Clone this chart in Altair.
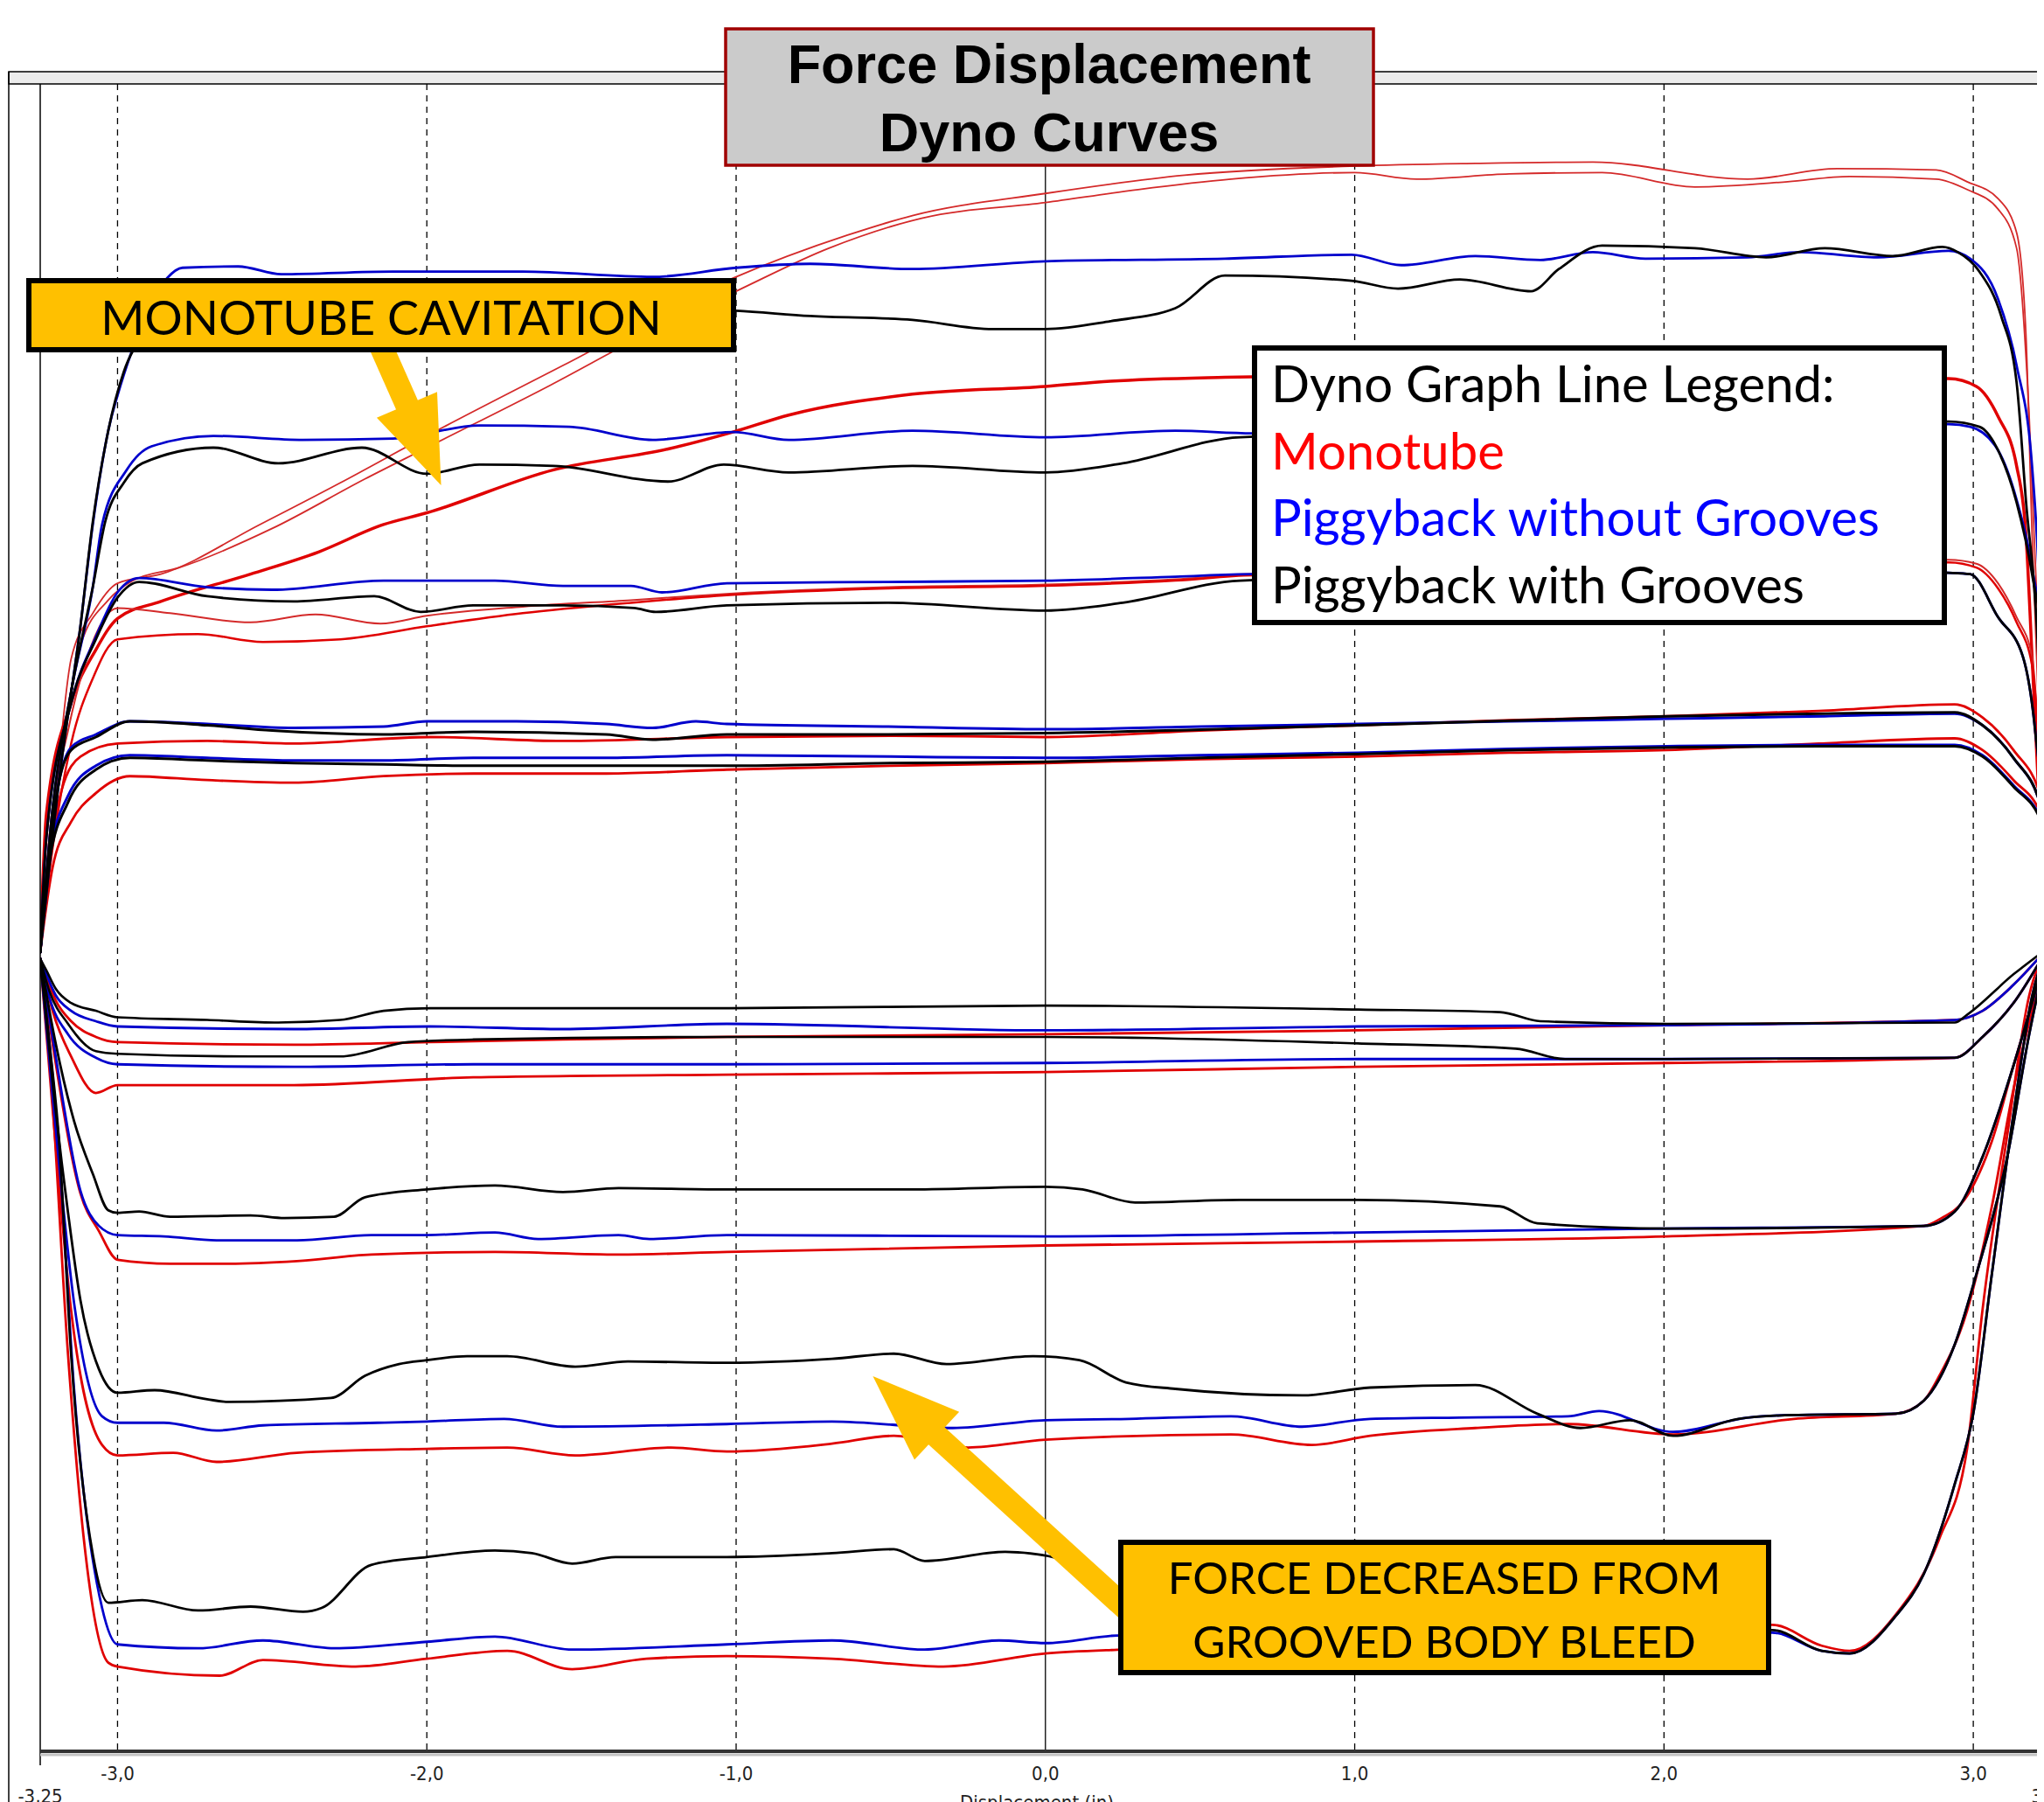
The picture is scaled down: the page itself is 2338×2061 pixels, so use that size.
import altair as alt
import pandas as pd

# ---------------- axis text ----------------
X_TICKS = [-3, -2, -1, 0, 1, 2, 3]
X_TICK_LABELS = ["-3,0", "-2,0", "-1,0", "0,0", "1,0", "2,0", "3,0"]
X_END_TICKS = [-3.25, 3.25]
X_END_LABELS = ["-3,25", "3,25"]
GRID_DASHED = [-3, -2, -1, 1, 2, 3]
GRID_SOLID = [0]
X_TITLE = "Displacement (in)"

TITLE_LINES = ["Force Displacement", "Dyno Curves"]
NOTE_CAVITATION = "MONOTUBE CAVITATION"
NOTE_BLEED = ["FORCE DECREASED FROM", "GROOVED BODY BLEED"]
LEGEND_TITLE = "Dyno Graph Line Legend:"
LEGEND_ITEMS = ["Monotube", "Piggyback without Grooves", "Piggyback with Grooves"]
LEGEND_COLORS = ["#FF0000", "#0000FF", "#000000"]

# ---------------- curves: (displacement in, force) ----------------
# top half (rebound) ------------------------------------------------
MONO_T1A = [(-3.25,5),(-3.20,125),(-3.15,230),(-3.08,265),(-3.00,288),(-2.86,295),(-2.54,333),(-2.28,365),
            (-2.00,401),(-1.56,455),(-1.01,522),(-0.64,555),(-0.43,570),(0.0,587),(0.45,601),(1.00,608),
            (1.39,610),(1.77,611),(2.27,598),(2.56,606),(2.88,605),(2.98,596),(3.08,583),(3.14,557),
            (3.17,480),(3.19,326),(3.22,135),(3.24,5)]
MONO_T1B = [(-3.25,5),(-3.19,140),(-3.12,240),(-3.03,275),(-2.95,290),(-2.80,300),(-2.50,330),(-2.20,368),
            (-2.00,392),(-1.60,440),(-1.30,478),(-1.00,512),(-0.70,545),(-0.40,568),(0.0,580),(0.30,590),
            (0.60,598),(1.00,603),(1.20,598),(1.50,602),(1.80,603),(2.10,592),(2.40,596),(2.60,600),
            (2.88,598),(2.98,590),(3.08,575),(3.14,545),(3.18,420),(3.21,250),(3.24,5)]
MONO_T2 = [(-3.25,5),(-3.23,111),(-3.15,196),(-3.07,237),(-3.00,261),(-2.86,274),(-2.57,295),(-2.35,312),
           (-2.14,333),(-2.00,342),(-1.59,375),(-1.22,391),(-1.01,404),(-0.83,417),(-0.43,433),(0.0,439),
           (0.21,443),(0.58,446),(0.84,447),(1.68,448),(2.52,445),(2.92,445),(3.01,439),(3.08,416),
           (3.14,378),(3.17,326),(3.19,232),(3.22,85),(3.24,5)]
MONO_T3A = [(-3.25,5),(-3.22,95),(-3.16,175),(-3.10,230),(-3.00,269),(-2.83,265),(-2.57,258),(-2.36,264),
            (-2.15,257),(-2.00,263),(-1.69,270),(-1.34,275),(-1.02,280),(-0.51,285),(0.0,287),(0.42,291),
            (0.67,295),(1.68,297),(2.52,303),(2.92,306),(3.01,303),(3.08,288),(3.14,262),(3.19,232),
            (3.21,175),(3.23,85),(3.24,5)]
MONO_T3B = [(-3.25,5),(-3.21,85),(-3.15,165),(-3.08,215),(-3.00,245),(-2.74,249),(-2.53,243),(-2.28,245),
            (-2.00,255),(-1.69,265),(-1.34,273),(-1.02,279),(-0.51,284),(0.0,286),(0.42,290),(0.67,294),
            (1.68,296),(2.52,300),(2.92,304),(3.01,300),(3.08,284),(3.14,258),(3.19,225),(3.21,170),
            (3.23,80),(3.24,5)]
MONO_T4 = [(-3.25,5),(-3.22,80),(-3.18,130),(-3.12,155),(-3.00,165),(-2.71,167),(-2.43,165),(-1.99,170),
           (-1.56,167),(-1.03,170),(-0.5,171),(0.0,170),(0.5,175),(1.01,179),(1.5,183),(2.01,186),
           (2.5,190),(2.94,195),(3.03,185),(3.13,160),(3.22,123),(3.25,8)]
MONO_T5 = [(-3.25,5),(-3.21,70),(-3.15,105),(-3.07,127),(-2.96,140),(-2.71,137),(-2.43,135),(-2.14,140),
           (-1.85,142),(-1.42,142),(-1.03,145),(-0.5,148),(0.0,150),(0.5,153),(1.01,155),(1.5,158),
           (2.01,160),(2.5,165),(2.94,169),(3.03,160),(3.13,137),(3.22,110),(3.25,8)]

PB_T1 = [(-3.25,5),(-3.19,135),(-3.12,255),(-3.08,333),(-3.03,405),(-2.99,440),(-2.94,475),(-2.89,504),
         (-2.84,522),(-2.79,530),(-2.61,531),(-2.47,525),(-2.11,527),(-1.69,527),(-1.27,523),(-1.00,530),
         (-0.76,533),(-0.43,529),(0.0,535),(0.58,537),(0.99,540),(1.15,532),(1.39,539),(1.60,536),
         (1.77,542),(1.94,537),(2.27,538),(2.44,542),(2.69,538),(2.92,543),(2.99,537),(3.08,506),
         (3.14,455),(3.19,378),(3.22,232),(3.24,5)]
PB_T2 = [(-3.25,5),(-3.21,115),(-3.15,205),(-3.08,285),(-3.05,333),(-2.97,375),(-2.89,393),(-2.69,401),
         (-2.40,398),(-2.11,399),(-1.83,409),(-1.54,408),(-1.27,398),(-1.01,404),(-0.83,398),(-0.43,405),
         (0.0,400),(0.42,405),(0.67,403),(1.68,405),(2.52,407),(2.92,410),(2.99,408),(3.08,390),
         (3.14,352),(3.19,300),(3.23,225),(3.24,5)]
PB_T3 = [(-3.25,5),(-3.23,93),(-3.15,196),(-3.07,247),(-3.00,281),(-2.93,292),(-2.71,285),(-2.50,283),
         (-2.14,290),(-1.78,290),(-1.56,286),(-1.34,286),(-1.24,281),(-1.03,288),(-0.51,289),(0.0,290),
         (0.42,293),(0.67,295),(1.68,295),(2.52,298),(2.92,296),(2.99,295),(3.08,262),(3.16,232),
         (3.20,175),(3.23,85),(3.24,5)]
PB_T4 = [(-3.25,5),(-3.22,85),(-3.19,135),(-3.15,162),(-3.07,172),(-2.96,182),(-2.71,180),(-2.43,177),
         (-2.14,178),(-2.00,182),(-1.71,182),(-1.42,180),(-1.27,177),(-1.13,182),(-1.03,180),(-0.51,178),
         (0.0,176),(0.5,178),(1.01,180),(1.5,182),(2.01,184),(2.52,186),(2.94,188),(3.03,179),
         (3.13,154),(3.22,116),(3.25,8)]
PB_T5 = [(-3.25,5),(-3.22,78),(-3.16,125),(-3.07,148),(-2.96,156),(-2.71,154),(-2.43,152),(-2.14,152),
         (-1.85,154),(-1.42,154),(-1.03,156),(-0.5,155),(0.0,154),(0.5,156),(1.01,158),(1.5,161),
         (2.01,163),(2.5,164),(2.94,164),(3.03,156),(3.13,133),(3.22,106),(3.25,8)]

PBG_T1 = [(-3.25,5),(-3.19,135),(-3.12,255),(-3.08,335),(-3.03,405),(-2.98,450),(-2.91,480),(-2.83,495),
          (-2.53,500),(-2.11,503),(-1.69,500),(-1.27,499),(-1.00,497),(-0.76,493),(-0.43,490),(-0.17,483),
          (0.0,483),(0.21,489),(0.42,499),(0.58,524),(0.99,520),(1.14,514),(1.34,521),(1.57,512),
          (1.66,529),(1.80,547),(2.10,545),(2.33,538),(2.52,545),(2.74,539),(2.90,546),(2.95,542),
          (3.02,527),(3.09,493),(3.14,442),(3.17,352),(3.21,232),(3.24,5)]
PBG_T2 = [(-3.25,5),(-3.21,115),(-3.15,205),(-3.08,285),(-3.04,335),(-2.98,365),(-2.92,380),(-2.69,392),
          (-2.48,380),(-2.21,392),(-2.00,372),(-1.83,379),(-1.59,378),(-1.22,366),(-1.04,379),(-0.83,373),
          (-0.43,378),(0.0,373),(0.25,380),(0.63,400),(1.68,405),(2.52,409),(2.92,412),(3.02,408),
          (3.08,390),(3.14,350),(3.19,295),(3.23,225),(3.24,5)]
PBG_T3 = [(-3.25,5),(-3.23,93),(-3.15,196),(-3.07,245),(-3.00,277),(-2.93,289),(-2.71,278),(-2.43,274),
          (-2.17,278),(-2.02,266),(-1.85,271),(-1.56,271),(-1.33,269),(-1.26,266),(-1.03,271),(-0.51,273),
          (0.0,267),(0.25,273),(0.63,290),(1.68,295),(2.52,298),(2.92,296),(2.99,295),(3.08,262),
          (3.16,232),(3.20,175),(3.23,85),(3.24,5)]
PBG_T4 = [(-3.25,5),(-3.22,85),(-3.19,135),(-3.15,160),(-3.07,170),(-2.96,182),(-2.71,179),(-2.50,175),
          (-2.14,172),(-1.85,174),(-1.42,172),(-1.27,168),(-1.03,172),(-0.51,172),(0.0,173),(1.01,179),
          (2.01,186),(2.52,188),(2.94,189),(3.03,179),(3.13,154),(3.22,116),(3.25,8)]
PBG_T5 = [(-3.25,5),(-3.22,75),(-3.16,120),(-3.07,145),(-2.96,154),(-2.71,152),(-2.43,150),(-2.14,149),
          (-1.85,148),(-1.42,148),(-1.03,148),(-0.5,150),(0.0,151),(0.5,154),(1.01,157),(1.5,160),
          (2.01,162),(2.5,163),(2.94,163),(3.03,155),(3.13,132),(3.22,105),(3.25,8)]

# bottom half (compression) -----------------------------------------
MONO_B1 = [(-3.25,0),(-3.23,-14),(-3.20,-32),(-3.15,-48),(-3.07,-60),(-3.00,-64),(-2.43,-66),(-1.99,-64),
           (-1.56,-62),(-1.03,-60),(0.0,-58),(1.01,-55),(2.01,-51),(2.94,-47),(3.03,-40),(3.13,-20),(3.24,8)]
MONO_B2 = [(-3.25,0),(-3.21,-40),(-3.15,-75),(-3.07,-103),(-3.00,-97),(-2.43,-97),(-1.85,-91),(-1.03,-89),
           (0.0,-87),(1.01,-83),(2.01,-80),(2.94,-76),(3.03,-60),(3.13,-34),(3.24,8)]
MONO_B3 = [(-3.25,0),(-3.20,-80),(-3.12,-180),(-3.06,-209),(-3.00,-231),(-2.83,-234),(-2.64,-234),(-2.42,-232),
           (-2.18,-227),(-1.78,-225),(-1.38,-227),(-1.03,-225),(0.0,-220),(1.01,-217),(2.01,-213),(2.84,-205),
           (2.89,-200),(2.98,-182),(3.06,-140),(3.13,-82),(3.19,-34),(3.24,8)]
MONO_B4 = [(-3.25,0),(-3.21,-115),(-3.15,-270),(-3.05,-373),(-3.00,-381),(-2.82,-379),(-2.68,-386),(-2.42,-379),
           (-2.00,-376),(-1.74,-375),(-1.52,-381),(-1.21,-375),(-1.03,-378),(-0.69,-372),(-0.49,-366),(-0.25,-375),
           (0.0,-369),(0.60,-365),(0.86,-373),(1.05,-366),(1.39,-360),(1.69,-357),(2.03,-365),(2.42,-353),
           (2.75,-349),(2.84,-339),(2.89,-320),(2.98,-270),(3.06,-190),(3.13,-100),(3.19,-40),(3.24,8)]
MONO_B5 = [(-3.25,0),(-3.22,-75),(-3.16,-304),(-3.11,-443),(-3.03,-540),(-3.00,-543),(-2.67,-550),(-2.53,-538),
           (-2.23,-543),(-2.00,-537),(-1.74,-531),(-1.53,-545),(-1.29,-537),(-1.03,-535),(-0.69,-537),(-0.33,-543),
           (0.0,-533),(0.25,-530),(0.84,-527),(1.68,-520),(2.35,-511),(2.51,-527),(2.60,-531),(2.75,-503),
           (2.89,-445),(2.98,-376),(3.03,-269),(3.11,-135),(3.18,-29),(3.24,8)]

PB_B1 = [(-3.25,0),(-3.23,-12),(-3.20,-28),(-3.15,-40),(-3.07,-48),(-3.00,-52),(-2.43,-54),(-1.99,-52),
         (-1.56,-54),(-1.03,-50),(0.0,-55),(1.01,-52),(2.01,-51),(2.94,-47),(3.03,-40),(3.13,-20),(3.24,8)]
PB_B2 = [(-3.25,0),(-3.22,-30),(-3.16,-58),(-3.07,-76),(-3.00,-81),(-2.43,-83),(-1.85,-81),(-1.03,-81),
         (0.0,-80),(1.01,-77),(2.01,-77),(2.94,-76),(3.03,-60),(3.13,-34),(3.24,8)]
PB_B3 = [(-3.25,0),(-3.20,-75),(-3.12,-178),(-3.06,-205),(-3.00,-212),(-2.85,-213),(-2.68,-216),(-2.42,-216),
         (-2.18,-212),(-2.00,-212),(-1.78,-210),(-1.64,-215),(-1.38,-212),(-1.28,-215),(-1.03,-212),(0.0,-213),
         (1.01,-210),(2.01,-207),(2.84,-205),(2.94,-194),(3.03,-152),(3.13,-82),(3.19,-34),(3.24,8)]
PB_B4 = [(-3.25,0),(-3.21,-105),(-3.14,-265),(-3.05,-351),(-3.00,-356),(-2.85,-356),(-2.68,-362),(-2.53,-358),
         (-2.16,-356),(-2.00,-355),(-1.75,-353),(-1.56,-359),(-1.03,-357),(-0.69,-355),(-0.30,-360),(0.0,-354),
         (0.27,-353),(0.60,-351),(0.83,-359),(1.05,-353),(1.34,-352),(1.69,-351),(1.79,-347),(2.03,-363),
         (2.27,-352),(2.42,-350),(2.75,-349),(2.84,-339),(2.94,-296),(3.01,-242),(3.11,-152),(3.18,-59),(3.24,8)]
PB_B5 = [(-3.25,0),(-3.22,-65),(-3.19,-145),(-3.14,-332),(-3.05,-498),(-3.00,-526),(-2.74,-529),(-2.53,-523),
         (-2.30,-529),(-2.00,-524),(-1.78,-520),(-1.53,-530),(-1.03,-526),(-0.69,-523),(-0.39,-530),(-0.15,-523),
         (0.0,-525),(0.25,-519),(0.84,-521),(1.68,-519),(2.35,-517),(2.51,-531),(2.60,-533),(2.75,-504),
         (2.84,-472),(2.94,-403),(3.00,-349),(3.06,-242),(3.13,-119),(3.19,-29),(3.24,8)]

PBG_B1 = [(-3.25,0),(-3.23,-9),(-3.20,-23),(-3.15,-34),(-3.07,-40),(-3.00,-45),(-2.71,-47),(-2.48,-49),
          (-2.28,-47),(-2.14,-40),(-1.99,-38),(-1.56,-38),(-1.03,-38),(0.0,-36),(1.01,-39),(1.47,-41),
          (1.60,-48),(2.01,-50),(2.94,-49),(2.98,-43),(3.13,-12),(3.24,8)]
PBG_B2 = [(-3.25,0),(-3.22,-25),(-3.16,-50),(-3.07,-71),(-3.00,-73),(-2.57,-75),(-2.28,-75),(-2.06,-64),
          (-1.85,-62),(-1.03,-60),(0.0,-60),(1.01,-65),(1.52,-69),(1.68,-77),(2.01,-77),(2.94,-76),
          (3.03,-60),(3.13,-34),(3.24,8)]
PBG_B3 = [(-3.25,0),(-3.20,-65),(-3.14,-125),(-3.08,-165),(-3.03,-193),(-3.00,-195),(-2.93,-194),(-2.83,-198),
          (-2.57,-197),(-2.46,-199),(-2.30,-198),(-2.20,-183),(-2.00,-177),(-1.78,-174),(-1.56,-179),(-1.38,-176),
          (-1.04,-177),(-0.43,-177),(0.0,-175),(0.12,-177),(0.29,-187),(0.63,-185),(1.01,-185),(1.47,-190),
          (1.59,-203),(2.01,-207),(2.84,-205),(2.94,-194),(3.03,-152),(3.13,-82),(3.19,-34),(3.24,8)]
PBG_B4 = [(-3.25,0),(-3.21,-95),(-3.16,-195),(-3.12,-262),(-3.06,-315),(-3.00,-333),(-2.88,-331),(-2.71,-338),
          (-2.64,-340),(-2.31,-337),(-2.20,-320),(-2.09,-311),(-2.00,-308),(-1.87,-305),(-1.74,-305),(-1.52,-313),
          (-1.35,-309),(-1.03,-310),(-0.69,-307),(-0.49,-303),(-0.32,-311),(-0.04,-305),(0.11,-308),(0.26,-325),
          (0.42,-330),(0.83,-335),(1.05,-329),(1.39,-327),(1.59,-349),(1.73,-360),(1.89,-354),(2.03,-366),
          (2.24,-353),(2.42,-350),(2.75,-349),(2.84,-339),(2.94,-296),(3.01,-242),(3.11,-152),(3.18,-59),(3.24,8)]
PBG_B5 = [(-3.25,0),(-3.22,-65),(-3.19,-137),(-3.15,-304),(-3.08,-457),(-3.03,-494),(-2.92,-492),(-2.74,-500),
          (-2.57,-497),(-2.40,-501),(-2.34,-498),(-2.18,-465),(-2.00,-459),(-1.78,-454),(-1.66,-456),(-1.53,-464),
          (-1.39,-459),(-1.03,-459),(-0.69,-456),(-0.49,-453),(-0.39,-462),(-0.13,-455),(0.06,-461),(0.14,-472),
          (0.27,-493),(0.42,-512),(1.26,-518),(1.89,-517),(2.35,-515),(2.51,-531),(2.60,-533),(2.75,-504),
          (2.84,-472),(2.94,-403),(3.00,-349),(3.06,-242),(3.13,-119),(3.19,-29),(3.24,8)]

# (tone, name, points, stroke width)
CURVES = [
    ("red_thin", "MONO_T1A", MONO_T1A, 1.8), ("red_thin", "MONO_T1B", MONO_T1B, 1.8),
    ("red", "MONO_T2", MONO_T2, 3.5), ("red_thin", "MONO_T3A", MONO_T3A, 2.0),
    ("red", "MONO_T3B", MONO_T3B, 2.5), ("red", "MONO_T4", MONO_T4, 2.8), ("red", "MONO_T5", MONO_T5, 2.8),
    ("red", "MONO_B1", MONO_B1, 2.8), ("red", "MONO_B2", MONO_B2, 2.8), ("red", "MONO_B3", MONO_B3, 2.8),
    ("red", "MONO_B4", MONO_B4, 2.8), ("red", "MONO_B5", MONO_B5, 2.8),
    ("blue", "PB_T1", PB_T1, 2.8), ("blue", "PB_T2", PB_T2, 2.8), ("blue", "PB_T3", PB_T3, 2.8),
    ("blue", "PB_T4", PB_T4, 3.0), ("blue", "PB_T5", PB_T5, 3.0),
    ("blue", "PB_B1", PB_B1, 2.8), ("blue", "PB_B2", PB_B2, 2.8), ("blue", "PB_B3", PB_B3, 2.8),
    ("blue", "PB_B4", PB_B4, 2.8), ("blue", "PB_B5", PB_B5, 2.8),
    ("black", "PBG_T1", PBG_T1, 2.8), ("black", "PBG_T2", PBG_T2, 2.8), ("black", "PBG_T3", PBG_T3, 2.8),
    ("black", "PBG_T4", PBG_T4, 3.0), ("black", "PBG_T5", PBG_T5, 3.0),
    ("black", "PBG_B1", PBG_B1, 2.6), ("black", "PBG_B2", PBG_B2, 2.6), ("black", "PBG_B3", PBG_B3, 2.8),
    ("black", "PBG_B4", PBG_B4, 2.8), ("black", "PBG_B5", PBG_B5, 2.8),
]

TONES = ["red_thin", "red", "blue", "black"]
TONE_COLORS = ["#D42A2A", "#E00000", "#0000CC", "#000000"]

rows = []
for tone, name, pts, w in CURVES:
    for i, (x, f) in enumerate(pts):
        rows.append({"tone": tone, "curve": name, "idx": i, "disp": x, "force": f, "w": w})
curve_df = pd.DataFrame(rows)

W, H = 2284, 1907
X_DOMAIN = [-3.25, 3.206]
Y_DOMAIN = [-608, 671]
xs = alt.Scale(domain=X_DOMAIN, nice=False, zero=False)
ys = alt.Scale(domain=Y_DOMAIN, nice=False, zero=False)

one = pd.DataFrame({"k": [0]})
YEL = "#FFC000"
AX_FONT = "DejaVu Sans Condensed, Liberation Sans Narrow, Liberation Sans, sans-serif"

grid_d = alt.Chart(pd.DataFrame({"x": GRID_DASHED})).mark_rule(
    color="#000000", strokeWidth=1.3, strokeDash=[7, 6]).encode(x=alt.X("x:Q", scale=xs, axis=None))
grid_s = alt.Chart(pd.DataFrame({"x": GRID_SOLID})).mark_rule(
    color="#000000", strokeWidth=1.3).encode(x=alt.X("x:Q", scale=xs, axis=None))

lines = alt.Chart(curve_df).mark_line(clip=True, strokeJoin="round", strokeCap="round", interpolate="monotone").encode(
    x=alt.X("disp:Q", scale=xs, axis=None),
    y=alt.Y("force:Q", scale=ys, axis=None),
    color=alt.Color("tone:N", scale=alt.Scale(domain=TONES, range=TONE_COLORS), legend=None),
    strokeWidth=alt.StrokeWidth("w:Q", scale=None),
    detail="curve:N",
    order="idx:Q",
)

# frame pieces
top_band = alt.Chart(one).mark_rect(fill="#ECECEC", stroke="#000000", strokeWidth=1.5).encode(
    x=alt.value(-36), x2=alt.value(W + 40), y=alt.value(-14), y2=alt.value(0))
outer_left = alt.Chart(one).mark_rule(color="#000000", strokeWidth=1.5).encode(
    x=alt.value(-36), y=alt.value(-14), y2=alt.value(H + 60))
plot_left = alt.Chart(one).mark_rule(color="#000000", strokeWidth=1.5).encode(
    x=alt.value(0), y=alt.value(0), y2=alt.value(H + 16))
axis_gray = alt.Chart(one).mark_rule(color="#C4C4C4", strokeWidth=3).encode(
    x=alt.value(0), x2=alt.value(W + 40), y=alt.value(H + 4))
axis_line = alt.Chart(one).mark_rule(color="#333333", strokeWidth=4).encode(
    x=alt.value(0), x2=alt.value(W + 40), y=alt.value(H))

tick_lab = alt.Chart(pd.DataFrame({"x": X_TICKS, "t": X_TICK_LABELS})).mark_text(
    font=AX_FONT, fontSize=22, color="#222222", baseline="middle").encode(
    x=alt.X("x:Q", scale=xs, axis=None), y=alt.value(H + 26), text="t:N")
end_lab = alt.Chart(pd.DataFrame({"x": X_END_TICKS, "t": X_END_LABELS})).mark_text(
    font=AX_FONT, fontSize=22, color="#222222", baseline="middle").encode(
    x=alt.X("x:Q", scale=xs, axis=None), y=alt.value(H + 52), text="t:N")
x_title = alt.Chart(pd.DataFrame({"t": [X_TITLE]})).mark_text(
    font=AX_FONT, fontSize=22, color="#222222", baseline="top").encode(
    x=alt.value(1140), y=alt.value(H + 49), text="t:N")

# title box
title_box = alt.Chart(one).mark_rect(fill="#CBCBCB", stroke="#A00000", strokeWidth=3.5).encode(
    x=alt.value(784), x2=alt.value(1525), y=alt.value(-63), y2=alt.value(93))
title_txt = alt.Chart(one).mark_text(
    font="Liberation Sans", fontWeight="bold", fontSize=63, color="#000000",
    align="center", baseline="alphabetic", lineHeight=78).encode(
    x=alt.value(1154), y=alt.value(-1), text=alt.value(TITLE_LINES))

# arrows
shaft1 = alt.Chart(one).mark_rule(color=YEL, strokeWidth=27, strokeCap="butt").encode(
    x=alt.value(388), x2=alt.value(427), y=alt.value(296), y2=alt.value(384))
head1 = alt.Chart(one).mark_point(
    shape="M0,-1L0.75,1L-0.75,1Z", size=10000, filled=True, fill=YEL, stroke=None, opacity=1, angle=157).encode(
    x=alt.value(439), y=alt.value(413))
shaft2 = alt.Chart(one).mark_rule(color=YEL, strokeWidth=27, strokeCap="butt").encode(
    x=alt.value(1250), x2=alt.value(1014), y=alt.value(1751), y2=alt.value(1536))
head2 = alt.Chart(one).mark_point(
    shape="M0,-1L0.75,1L-0.75,1Z", size=10000, filled=True, fill=YEL, stroke=None, opacity=1, angle=313).encode(
    x=alt.value(989), y=alt.value(1512))

# annotation boxes
cav_box = alt.Chart(one).mark_rect(fill=YEL, stroke="#000000", strokeWidth=6).encode(
    x=alt.value(-13), x2=alt.value(793), y=alt.value(225), y2=alt.value(304))
cav_txt = alt.Chart(pd.DataFrame({"t": [NOTE_CAVITATION]})).mark_text(
    font="Lato", fontSize=54, color="#000000", align="center", baseline="alphabetic").encode(
    x=alt.value(390), y=alt.value(287), text="t:N")

bleed_box = alt.Chart(one).mark_rect(fill=YEL, stroke="#000000", strokeWidth=6).encode(
    x=alt.value(1236), x2=alt.value(1977), y=alt.value(1668), y2=alt.value(1817))
bleed_txt = alt.Chart(one).mark_text(
    font="Lato", fontSize=51, color="#000000", align="center", baseline="alphabetic", lineHeight=73).encode(
    x=alt.value(1606), y=alt.value(1727), text=alt.value(NOTE_BLEED))

leg_box = alt.Chart(one).mark_rect(fill="#FFFFFF", stroke="#000000", strokeWidth=6).encode(
    x=alt.value(1389), x2=alt.value(2178), y=alt.value(302), y2=alt.value(616))
leg_rows = pd.DataFrame({"t": [LEGEND_TITLE] + LEGEND_ITEMS,
                         "c": ["#000000"] + LEGEND_COLORS,
                         "r": [0, 1, 2, 3]})
leg_txt = alt.Chart(leg_rows).mark_text(
    font="Lato", fontSize=58, align="left", baseline="alphabetic").encode(
    x=alt.value(1408),
    y=alt.Y("r:Q", scale=alt.Scale(domain=[0, 3], range=[364, 594]), axis=None),
    text="t:N",
    color=alt.Color("c:N", scale=None),
)

chart = alt.layer(
    grid_d, grid_s, lines,
    top_band, outer_left, plot_left, axis_gray, axis_line,
    tick_lab, end_lab, x_title,
    shaft1, head1, shaft2, head2,
    cav_box, cav_txt, bleed_box, bleed_txt, leg_box, leg_txt,
    title_box, title_txt,
).resolve_scale(y="independent").properties(
    width=W, height=H,
    autosize=alt.AutoSizeParams(type="none"),
    padding={"left": 38, "top": 88, "right": 0, "bottom": 58},
    background="#FFFFFF",
).configure_view(stroke=None)

chart.save("out.html", embed_options={"renderer": "svg", "actions": False})
